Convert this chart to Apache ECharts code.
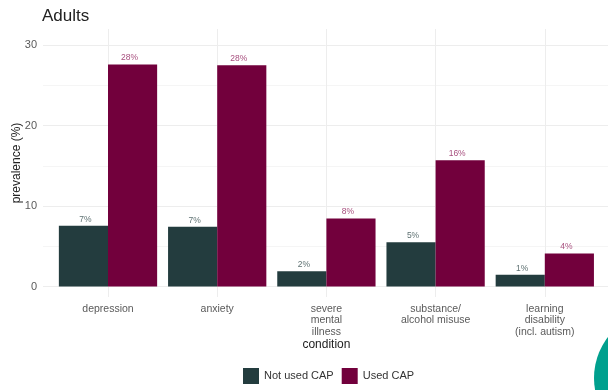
<!DOCTYPE html>
<html><head><meta charset="utf-8">
<style>html,body{margin:0;padding:0;background:#fff}#c{width:608px;height:390px}</style>
<script src="https://cdn.jsdelivr.net/npm/echarts@6/dist/echarts.min.js"></script>
</head><body><div id="c"></div>
<script>
const categories = ['depression','anxiety','severe\nmental\nillness','substance/\nalcohol misuse','learning\ndisability\n(incl. autism)'];
const notUsedCap = [7.55, 7.43, 1.9, 5.5, 1.45];
const usedCap = [27.6, 27.5, 8.45, 15.7, 4.1];
const notUsedLabels = ['7%','7%','2%','5%','1%'];
const usedLabels = ['28%','28%','8%','16%','4%'];
const yLabels = [0,10,20,30];
const yTicks = [0,5,10,15,20,25,30];
const FONT = '"Liberation Sans", Arial, sans-serif';
const chart = echarts.init(document.getElementById('c'), null, {renderer:'canvas'});
const yMin = -1.3, yMax = 32;
function barSeries(name, data, labels, color, labelColor, dx){
  return {name, type:'bar', xAxisIndex:1, yAxisIndex:1, data, barGap:0, barCategoryGap:'10%',
    itemStyle:{color, borderColor:color, borderWidth:0},
    label:{show:true, position:'top', distance:2, offset:[dx,0], fontSize:8.5, fontFamily:FONT, color:labelColor,
      formatter:p=>labels[p.dataIndex]}};
}
chart.setOption({
  animation:false,
  backgroundColor:'#fff',
  title:{text:'Adults', left:37, top:3, textStyle:{fontFamily:FONT, fontSize:17, fontWeight:'normal', color:'#222'}},
  legend:{bottom:1, left:238, itemWidth:16, itemHeight:16, itemGap:8, icon:'rect',
    textStyle:{fontFamily:FONT, fontSize:11, color:'#333'}},
  grid:[
    {left:43, right:0, top:29, height:268, outerBoundsMode:'none'},
    {left:53.4, width:546, top:29, height:268, outerBoundsMode:'none'}
  ],
  xAxis:[
    {gridIndex:0, type:'category', data:categories, show:false},
    {gridIndex:1, type:'category', data:categories, position:'bottom',
     axisLine:{show:false, onZero:false},
     axisTick:{show:true, alignWithLabel:true, inside:true, length:268, lineStyle:{color:'#ededed', width:1}},
     axisLabel:{fontFamily:FONT, fontSize:10.5, color:'#5a5a5a', margin:6, lineHeight:11.5, interval:0},
     name:'condition', nameLocation:'middle', nameGap:42, nameMoveOverlap:false,
     nameTextStyle:{fontFamily:FONT, fontSize:12, color:'#222'}}
  ],
  yAxis:[
    {gridIndex:0, type:'value', min:yMin, max:yMax,
     axisLine:{show:false},
     axisTick:{show:false, customValues:yTicks},
     axisLabel:{customValues:yLabels, fontFamily:FONT, fontSize:11, color:'#5a5a5a', margin:6},
     splitLine:{show:true, lineStyle:{color:['#ededed','#f5f5f5'], width:1}},
     name:'prevalence (%)', nameLocation:'middle', nameGap:20, nameMoveOverlap:false,
     nameTextStyle:{fontFamily:FONT, fontSize:12, color:'#222'}},
    {gridIndex:1, type:'value', min:yMin, max:yMax, show:false}
  ],
  series:[
    barSeries('Not used CAP', notUsedCap, notUsedLabels, '#233c3e', '#5f7273', 2),
    barSeries('Used CAP', usedCap, usedLabels, '#72003c', '#a8507f', -3)
  ],
  graphic:[{type:'circle', shape:{cx:661, cy:378, r:67}, style:{fill:'#00a08e'}, silent:true, z:10}]
});
</script></body></html>
